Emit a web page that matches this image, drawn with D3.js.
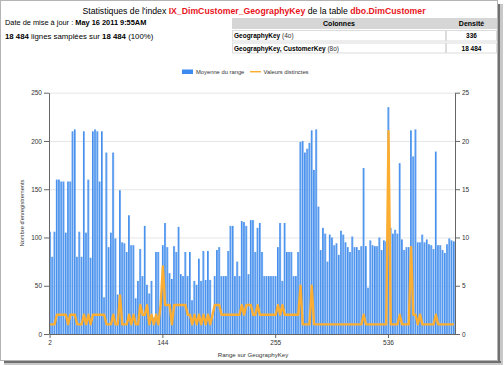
<!DOCTYPE html>
<html>
<head>
<meta charset="utf-8">
<script src="https://cdn.jsdelivr.net/npm/d3@7/dist/d3.min.js"></script>
<style>
  body { margin: 0; background: #fff; }
  svg { display: block; font-family: "Liberation Sans", Arial, sans-serif; }
</style>
</head>
<body>
<svg width="504" height="365"></svg>
<script>
// moyenne du range (left axis), one value per histogram step
var barValues = [
  106, 80, 106, 160, 160, 158, 158, 105, 158, 158,
  210, 212, 80, 106, 80, 210, 105, 160, 79, 210,
  212, 210, 158, 210, 38, 188, 90, 105, 188, 99,
  41, 149, 95, 94, 85, 123, 92, 92, 37, 55,
  88, 60, 112, 51, 42, 55, 17, 85, 85, 29,
  92, 115, 90, 63, 57, 91, 85, 111, 62, 60,
  85, 60, 85, 35, 55, 51, 78, 55, 86, 56,
  86, 56, 17, 60, 87, 90, 60, 60, 60, 86,
  112, 112, 60, 75, 60, 117, 116, 112, 62, 118,
  118, 85, 110, 115, 85, 60, 60, 60, 60, 60,
  60, 90, 115, 55, 115, 85, 85, 85, 60, 60,
  85, 199, 200, 188, 192, 198, 211, 170, 212, 132,
  87, 110, 104, 75, 103, 100, 92, 94, 82, 107,
  103, 95, 90, 85, 101, 90, 90, 87, 91, 172,
  91, 48, 97, 92, 91, 91, 100, 87, 97, 96,
  235, 110, 104, 108, 104, 177, 98, 87, 90, 90,
  211, 184, 212, 95, 95, 103, 95, 98, 93, 92,
  88, 189, 92, 92, 87, 84, 93, 99, 97, 96
];

// valeurs distinctes (right axis)
var distinctValues = [
  1, 1, 1, 2, 2, 2, 2, 2, 1, 2,
  2, 2, 1, 1, 1, 2, 1, 2, 1, 2,
  2, 2, 2, 2, 2, 1, 1, 1, 2, 1,
  1, 4, 1, 1, 1, 2, 1, 2, 1, 1,
  3, 2, 2, 3, 1, 2, 1, 2, 1, 3,
  7, 3, 3, 3, 1, 3, 3, 3, 3, 3,
  3, 2, 2, 1, 2, 1, 2, 1, 2, 1,
  2, 1, 2, 3, 3, 3, 2, 2, 2, 2,
  2, 2, 2, 2, 2, 3, 2, 3, 3, 3,
  2, 2, 3, 2, 2, 2, 2, 2, 2, 2,
  2, 3, 2, 3, 2, 2, 2, 2, 2, 2,
  2, 5, 1, 1, 1, 1, 5, 1, 1, 1,
  1, 1, 1, 1, 1, 1, 1, 1, 1, 1,
  1, 1, 1, 1, 1, 1, 1, 1, 1, 2,
  1, 1, 1, 1, 1, 1, 1, 1, 1, 1,
  21, 1, 1, 1, 1, 2, 1, 1, 1, 1,
  9, 2, 2, 1, 2, 1, 1, 1, 1, 1,
  1, 2, 1, 1, 1, 1, 1, 1, 1, 1
];

var tickIndex = [0, 50, 100, 150];
var tickLabels = ['2', '144', '255', '536'];
var leftTicks = [0, 50, 100, 150, 200, 250];
var rightTicks = [0, 5, 10, 15, 20, 25];

var tableHead = ['Colonnes', 'Densité'];
var tableCols = ['GeographyKey', 'GeographyKey, CustomerKey'];
var tableSizes = [' (4o)', ' (8o)'];
var tableDensity = ['336', '18 484'];

var svg = d3.select('svg');

// frame + drop shadow
svg.append('rect').attr('x', 4).attr('y', 361).attr('width', 499).attr('height', 4).attr('fill', '#c8c8c8');
svg.append('rect').attr('x', 498).attr('y', 4).attr('width', 5).attr('height', 361).attr('fill', '#c8c8c8');
svg.append('rect').attr('x', 4).attr('y', 361).attr('width', 497).attr('height', 2).attr('fill', '#707070');
svg.append('rect').attr('x', 498).attr('y', 4).attr('width', 2).attr('height', 359).attr('fill', '#707070');
svg.append('rect').attr('x', 0.5).attr('y', 0.5).attr('width', 497).attr('height', 360)
  .attr('fill', '#fff').attr('stroke', '#b4b4b4');

// title
var title = svg.append('text').attr('x', 254).attr('y', 13.5).attr('text-anchor', 'middle')
  .attr('font-size', 8.7).attr('fill', '#000');
title.append('tspan').text("Statistiques de l'index ");
title.append('tspan').attr('fill', '#e8141c').attr('font-weight', 'bold').text('IX_DimCustomer_GeographyKey');
title.append('tspan').text(' de la table ');
title.append('tspan').attr('fill', '#e8141c').attr('font-weight', 'bold').text('dbo.DimCustomer');

var info1 = svg.append('text').attr('x', 5).attr('y', 25).attr('font-size', 7.4).attr('fill', '#000');
info1.append('tspan').text('Date de mise à jour : ');
info1.append('tspan').attr('font-weight', 'bold').text('May 16 2011 9:55AM');

var info2 = svg.append('text').attr('x', 5).attr('y', 38.5).attr('font-size', 7.8).attr('fill', '#000');
info2.append('tspan').attr('font-weight', 'bold').text('18 484');
info2.append('tspan').text(' lignes samplées sur ');
info2.append('tspan').attr('font-weight', 'bold').text('18 484');
info2.append('tspan').text(' (100%)');

// table
var tx0 = 232, tx1 = 446, tx2 = 497;
svg.append('rect').attr('x', tx0).attr('y', 18).attr('width', tx2 - tx0).attr('height', 11).attr('fill', '#d6d6d6');
[[30, 41.5], [42.5, 53.5]].forEach(function (r) {
  svg.append('rect').attr('x', tx0 + 0.5).attr('y', r[0] + 0.5).attr('width', tx1 - tx0 - 1).attr('height', r[1] - r[0] - 1)
    .attr('fill', 'none').attr('stroke', '#dcdcdc');
  svg.append('rect').attr('x', tx1 + 0.5).attr('y', r[0] + 0.5).attr('width', tx2 - tx1 - 1).attr('height', r[1] - r[0] - 1)
    .attr('fill', 'none').attr('stroke', '#dcdcdc');
});
svg.append('text').attr('x', (tx0 + tx1) / 2).attr('y', 26.3).attr('text-anchor', 'middle')
  .attr('font-size', 7).attr('font-weight', 'bold').text(tableHead[0]);
svg.append('text').attr('x', (tx1 + tx2) / 2).attr('y', 26.3).attr('text-anchor', 'middle')
  .attr('font-size', 7).attr('font-weight', 'bold').text(tableHead[1]);
tableCols.forEach(function (c, i) {
  var yy = 38.3 + i * 12.2;
  var t = svg.append('text').attr('x', tx0 + 2).attr('y', yy).attr('font-size', 6.5);
  t.append('tspan').attr('font-weight', 'bold').text(c);
  t.append('tspan').attr('fill', '#333').text(tableSizes[i]);
  svg.append('text').attr('x', (tx1 + tx2) / 2).attr('y', yy).attr('text-anchor', 'middle')
    .attr('font-size', 6.5).attr('font-weight', 'bold').text(tableDensity[i]);
});

// chart
var plotLeft = 49, plotRight = 455, plotTop = 92.7, plotBottom = 334;
var x = d3.scaleBand().domain(d3.range(barValues.length)).range([plotLeft, plotRight])
  .paddingInner(0.15).paddingOuter(0.05);
var y = d3.scaleLinear().domain([0, 250]).range([plotBottom, plotTop]);
var y2 = d3.scaleLinear().domain([0, 25]).range([plotBottom, plotTop]);

var defs = svg.append('defs');
var grad = defs.append('linearGradient').attr('id', 'barg').attr('x1', 0).attr('x2', 1).attr('y1', 0).attr('y2', 0);
grad.append('stop').attr('offset', '0%').attr('stop-color', '#2e80ea');
grad.append('stop').attr('offset', '100%').attr('stop-color', '#84b6f3');

// grid
svg.append('g').attr('transform', 'translate(' + plotLeft + ',0)')
  .call(d3.axisLeft(y).tickValues(leftTicks.slice(1)).tickSize(-(plotRight - plotLeft)).tickFormat(''))
  .call(function (g) {
    g.select('.domain').remove();
    g.selectAll('line').attr('stroke', '#e6e6e6').attr('stroke-width', 1);
  });

svg.append('g').selectAll('rect').data(barValues).join('rect')
  .attr('x', function (d, i) { return x(i); })
  .attr('y', function (d) { return y(d); })
  .attr('width', x.bandwidth())
  .attr('height', function (d) { return plotBottom - y(d); })
  .attr('fill', 'url(#barg)');

var line = d3.line()
  .x(function (d, i) { return x(i) + x.bandwidth() / 2; })
  .y(function (d) { return y2(d); });
svg.append('path').datum(distinctValues).attr('d', line)
  .attr('fill', 'none').attr('stroke', '#fcae32').attr('stroke-width', 2.4)
  .attr('stroke-linejoin', 'round');

function styleAxis(g) {
  g.select('.domain').attr('stroke', '#666');
  g.selectAll('.tick line').attr('stroke', '#666');
  g.selectAll('text').attr('font-size', 6.5).attr('fill', '#333')
    .attr('font-family', '"Liberation Sans", Arial, sans-serif');
}

svg.append('g').attr('transform', 'translate(' + plotLeft + ',0)')
  .call(d3.axisLeft(y).tickValues(leftTicks).tickSize(5).tickSizeOuter(0).tickPadding(2))
  .call(styleAxis);
svg.append('g').attr('transform', 'translate(' + plotRight + ',0)')
  .call(d3.axisRight(y2).tickValues(rightTicks).tickSize(5).tickSizeOuter(0).tickPadding(2))
  .call(styleAxis);
svg.append('g').attr('transform', 'translate(0,' + plotBottom + ')')
  .call(d3.axisBottom(x).tickValues(tickIndex).tickFormat(function (d, i) { return tickLabels[i]; })
    .tickSize(4).tickSizeOuter(0).tickPadding(2))
  .call(styleAxis);

svg.append('text').attr('x', 253).attr('y', 356.5).attr('text-anchor', 'middle')
  .attr('font-size', 6.1).attr('fill', '#333').text('Range sur GeographyKey');
svg.append('text').attr('transform', 'translate(23.5,213) rotate(-90)').attr('text-anchor', 'middle')
  .attr('font-size', 5.7).attr('fill', '#333').text("Nombre d'enregistrements");

// legend
svg.append('rect').attr('x', 182).attr('y', 69.5).attr('width', 11).attr('height', 4.5).attr('fill', '#3d8bf0');
svg.append('text').attr('x', 196).attr('y', 73.8).attr('font-size', 5.8).attr('fill', '#333').text('Moyenne du range');
svg.append('line').attr('x1', 250).attr('x2', 261).attr('y1', 71.7).attr('y2', 71.7)
  .attr('stroke', '#fcae32').attr('stroke-width', 1.5);
svg.append('text').attr('x', 263.5).attr('y', 73.8).attr('font-size', 5.8).attr('fill', '#333').text('Valeurs distinctes');
</script>
</body>
</html>
